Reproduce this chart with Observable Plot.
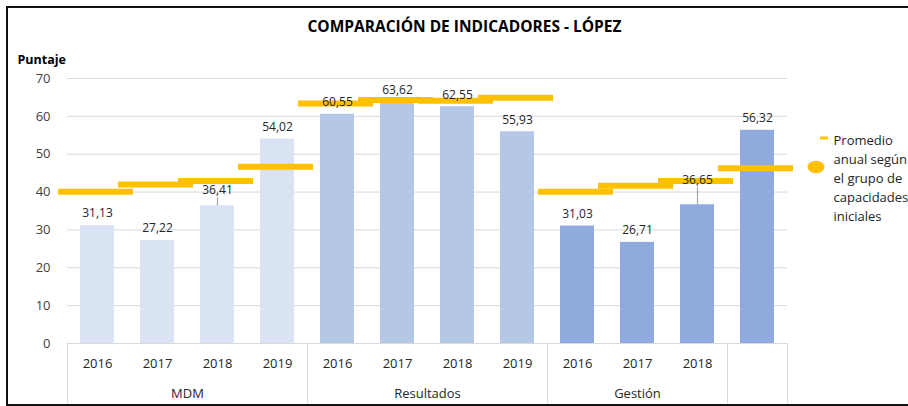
<!DOCTYPE html>
<html>
<head>
<meta charset="utf-8">
<script src="https://cdn.jsdelivr.net/npm/d3@7"></script>
<script src="https://cdn.jsdelivr.net/npm/@observablehq/plot@0.6"></script>
<style>
  html, body { margin: 0; padding: 0; background: #fff; }
  #chart { width: 908px; height: 406px; overflow: hidden; position: relative; }
</style>
</head>
<body>
<div id="chart"></div>
<script>
// Indicator each bar belongs to (drives the fill colour)
const indicators = ["MDM", "MDM", "MDM", "MDM",
  "Resultados", "Resultados", "Resultados", "Resultados",
  "Gestión", "Gestión", "Gestión", "Gestión"];
// Second-level category labels under the years (last cell is blank)
const groupLabels = ["MDM", "MDM", "MDM", "MDM",
  "Resultados", "Resultados", "Resultados", "Resultados",
  "Gestión", "Gestión", "Gestión", ""];
// First-level category labels
const years = ["2016", "2017", "2018", "2019",
  "2016", "2017", "2018", "2019",
  "2016", "2017", "2018", ""];
// Municipal score per indicator and year
const scores = [31.13, 27.22, 36.41, 54.02,
  60.55, 63.62, 62.55, 55.93,
  31.03, 26.71, 36.65, 56.32];
// Yearly average of the initial-capacity group
const groupAverages = [40.1, 42.0, 42.9, 46.7,
  63.4, 64.3, 64.1, 64.9,
  40.1, 41.7, 42.9, 46.3];
const yTicks = [0, 10, 20, 30, 40, 50, 60, 70];
const legendLines = ["Promedio", "anual según", "el grupo de", "capacidades", "iniciales"];
const chartTitle = "COMPARACIÓN DE INDICADORES - LÓPEZ";
const yTitle = "Puntaje";

const FONT = "'Open Sans', 'Noto Sans', sans-serif";
const ORANGE = "#FFC000";
const GRID = "#D9D9D9";

const rows = scores.map((v, i) => ({
  i, v, avg: groupAverages[i], indicator: indicators[i], year: years[i], group: groupLabels[i]
}));

// contiguous runs of the group labels → spans on the category axis
const runs = [];
groupLabels.forEach((g, i) => {
  const last = runs[runs.length - 1];
  if (last && last.label === g) last.end = i + 1;
  else runs.push({label: g, start: i, end: i + 1});
});
const dividers = runs.map(r => r.start).concat([groupLabels.length]);

// data labels that sit higher to clear the average markers, with a leader line
const lift = new Map([[2, 4], [10, 13]]);
const fmt = v => v.toFixed(2).replace(".", ",");

const plot = Plot.plot({
  width: 908,
  height: 406,
  marginTop: 78,
  marginBottom: 63,
  marginLeft: 67,
  marginRight: 121,
  style: {fontFamily: FONT, fontSize: "13px", color: "#404040", background: "transparent"},
  x: {domain: [0, scores.length], axis: null},
  y: {domain: [0, 70], ticks: yTicks, tickSize: 0, tickPadding: 17, label: null,
      tickFormat: d => String(d)},
  color: {domain: ["MDM", "Resultados", "Gestión"], range: ["#DAE3F3", "#B4C7E7", "#8FAADC"]},
  marks: [
    Plot.ruleY(yTicks, {stroke: GRID, strokeWidth: 1}),
    Plot.rectY(rows, {x1: d => d.i, x2: d => d.i + 1, y: "v", fill: "indicator",
      insetLeft: 13, insetRight: 13}),
    // leader lines for lifted labels
    ...[...lift].map(([i, l]) => Plot.ruleX(rows.filter(d => d.i === i), {
      x: d => d.i + 0.5, y1: "v", y2: "v", stroke: "#A6A6A6", strokeWidth: 1.2,
      insetTop: 0, insetBottom: l + 4})),
    // average markers
    Plot.ruleY(rows, {x1: d => d.i, x2: d => d.i + 1, y: "avg", stroke: ORANGE,
      strokeWidth: 6, insetLeft: -9, insetRight: -6}),
    // value labels
    ...[0, 4, 13].map(l => Plot.text(rows.filter(d => (lift.get(d.i) || 0) === l), {
      x: d => d.i + 0.5, y: "v", text: d => fmt(d.v), dy: -12 - l,
      fontSize: 12, fill: "#262626"})),
    // category axis: dividers, years, groups
    Plot.ruleX(dividers, {x: d => d, stroke: GRID, strokeWidth: 1, insetTop: 265, insetBottom: -60}),
    Plot.text(rows, {x: d => d.i + 0.5, frameAnchor: "bottom", lineAnchor: "middle",
      text: "year", dy: 20.5, fontSize: 13, fill: "#262626"}),
    Plot.text(runs, {x: d => (d.start + d.end) / 2, frameAnchor: "bottom", lineAnchor: "middle",
      text: "label", dy: 50.5, fontSize: 13, fill: "#262626"}),
    // titles
    Plot.text([chartTitle], {frameAnchor: "top", lineAnchor: "middle", text: d => d,
      dx: 37, dy: -51.5, fontSize: 15.5, fontWeight: "bold", fill: "#000"}),
    Plot.text([yTitle], {frameAnchor: "top-left", lineAnchor: "middle", text: d => d,
      dx: -50, dy: -19, textAnchor: "start", fontSize: 12.5, fontWeight: "bold", fill: "#000"}),
    // legend text
    Plot.text([legendLines.join("\n")], {frameAnchor: "top-right", lineAnchor: "middle",
      text: d => d, dx: 46, dy: 98, textAnchor: "start", lineHeight: 1.46,
      fontSize: 13, fill: "#262626"})
  ]
});

document.getElementById("chart").appendChild(plot);

// legend symbols and outer border
const svg = d3.select(plot);
svg.append("line").attr("x1", 820).attr("x2", 828).attr("y1", 138).attr("y2", 138)
  .attr("stroke", ORANGE).attr("stroke-width", 3);
svg.append("ellipse").attr("cx", 816).attr("cy", 167).attr("rx", 8.5).attr("ry", 6.2)
  .attr("fill", ORANGE);
svg.append("rect").attr("x", 7).attr("y", 7).attr("width", 960).attr("height", 398)
  .attr("fill", "none").attr("stroke", "#111").attr("stroke-width", 2);
</script>
</body>
</html>
